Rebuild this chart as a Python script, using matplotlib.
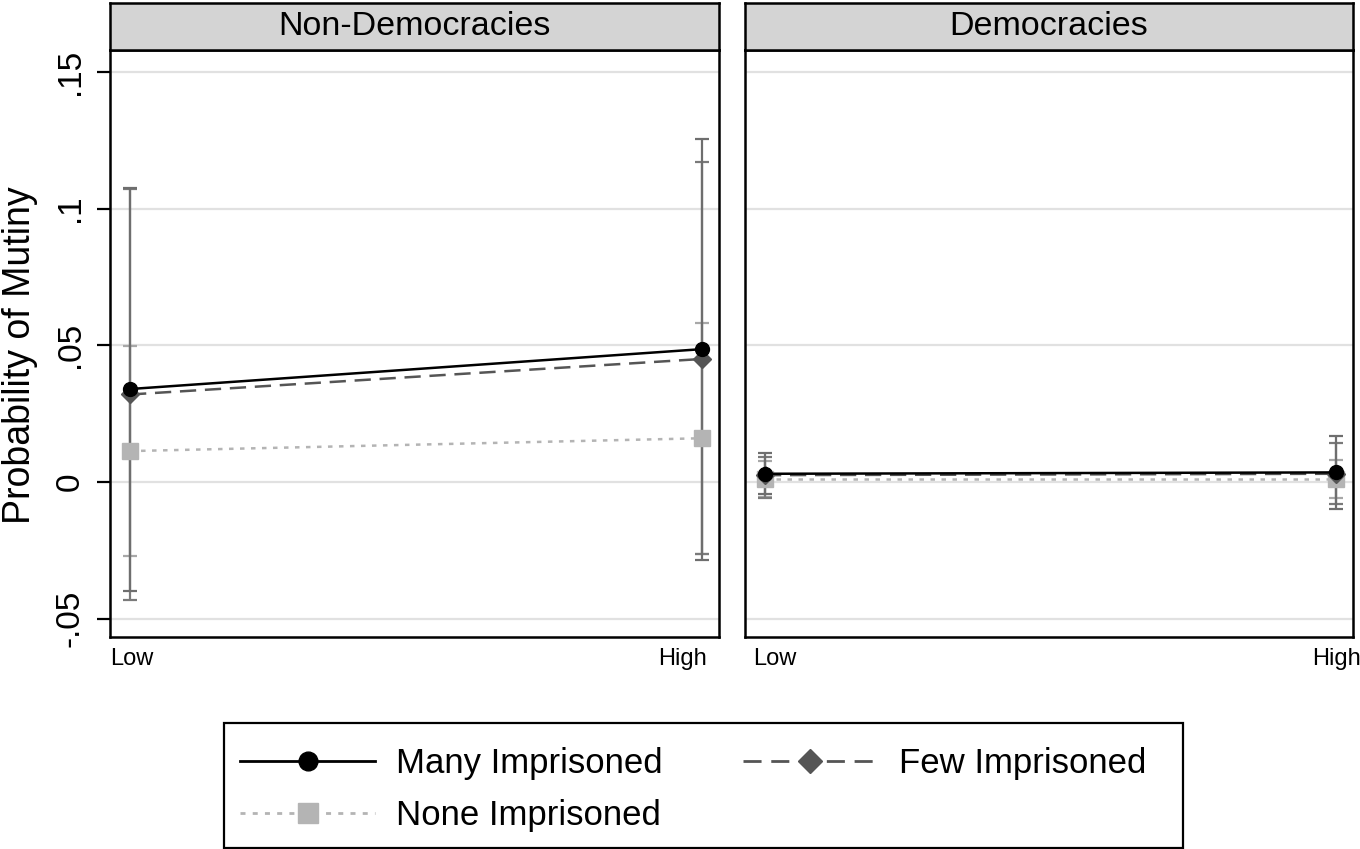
import matplotlib
matplotlib.use("Agg")
import matplotlib.pyplot as plt
from matplotlib.lines import Line2D
from matplotlib.patches import Rectangle
import numpy as np

plt.rcParams['font.family'] = ['Liberation Sans', 'DejaVu Sans']

panels = ["Non-Democracies", "Democracies"]
x_labels = ["Low", "High"]
series = ["Many Imprisoned", "Few Imprisoned", "None Imprisoned"]

# estimates [panel][series][low, high]
est = {
    "Non-Democracies": {
        "Many Imprisoned": [0.0340, 0.0486],
        "Few Imprisoned": [0.0320, 0.0450],
        "None Imprisoned": [0.0113, 0.0160],
    },
    "Democracies": {
        "Many Imprisoned": [0.0030, 0.0035],
        "Few Imprisoned": [0.0025, 0.0030],
        "None Imprisoned": [0.0010, 0.0010],
    },
}
ci_low = {
    "Non-Democracies": {
        "Many Imprisoned": [-0.0400, -0.0285],
        "Few Imprisoned": [-0.0430, -0.0265],
        "None Imprisoned": [-0.0270, -0.0265],
    },
    "Democracies": {
        "Many Imprisoned": [-0.0045, -0.0099],
        "Few Imprisoned": [-0.0060, -0.0082],
        "None Imprisoned": [-0.0055, -0.0060],
    },
}
ci_high = {
    "Non-Democracies": {
        "Many Imprisoned": [0.1075, 0.1255],
        "Few Imprisoned": [0.1072, 0.1170],
        "None Imprisoned": [0.0497, 0.0580],
    },
    "Democracies": {
        "Many Imprisoned": [0.0106, 0.0168],
        "Few Imprisoned": [0.0090, 0.0143],
        "None Imprisoned": [0.0075, 0.0080],
    },
}
y_ticks = [-0.05, 0, 0.05, 0.1, 0.15]
y_tick_labels = ["-.05", "0", ".05", ".1", ".15"]

styles = {
    "Many Imprisoned": dict(color="black", ls="-", marker="o", ms=10, lms=13.5, mc="black", ci="#6e6e6e", lw=1.8),
    "Few Imprisoned": dict(color="#555555", ls=(0, (6.5, 3.5)), marker="D", ms=9.5, lms=12.5, mc="#555555", ci="#7a7a7a", lw=1.8),
    "None Imprisoned": dict(color="#b4b4b4", ls=(0, (1.8, 2.6)), marker="s", ms=11, lms=14, mc="#b4b4b4", ci="#a8a8a8", lw=1.8),
}

W, H = 1360, 849
fig = plt.figure(figsize=(W / 100, H / 100), dpi=100)

def fx(px):
    return px / W

def fy(py):
    return 1 - py / H

panel_px = [(110, 719), (745, 1353)]
label_px = [(132, 683), (775, 1336)]
top_px, bottom_px, strip_top = 50, 637, 3
xpos = np.arange(len(x_labels))

for i, (name, (x0, x1)) in enumerate(zip(panels, panel_px)):
    ax = fig.add_axes([fx(x0), fy(bottom_px), fx(x1 - x0), (bottom_px - top_px) / H])
    ax.set_ylim(-0.0567, 0.158)
    ax.set_xlim(-0.035, 1.029)
    for yt in y_ticks:
        ax.axhline(yt, color="#e1e1e1", lw=1.6, zorder=0)
    # CI bars
    for s in series[::-1]:
        st = styles[s]
        e = np.array(est[name][s])
        lo = np.array(ci_low[name][s])
        hi = np.array(ci_high[name][s])
        ax.errorbar(xpos, e, yerr=[e - lo, hi - e], fmt="none", ecolor=st["ci"],
                    elinewidth=1.6, capsize=5, capthick=1.6, zorder=2)
    for s in series[::-1]:
        st = styles[s]
        ax.plot(xpos, est[name][s], color=st["color"], ls=st["ls"], lw=st["lw"],
                marker=st["marker"], ms=st["ms"], mfc=st["mc"], mec=st["mc"], zorder=3)
    for sp in ax.spines.values():
        sp.set_linewidth(1.8)
        sp.set_color("black")
    ax.set_xticks([])
    for lab, px in zip(x_labels, label_px[i]):
        ax.text((px - x0) / (x1 - x0), -(659 - bottom_px) / (bottom_px - top_px), lab,
                transform=ax.transAxes, ha="center", va="center", fontsize=17)
    ax.set_yticks(y_ticks)
    if i == 0:
        ax.set_yticklabels(y_tick_labels, fontsize=24, rotation=90, va="center")
        ax.tick_params(axis="y", length=9.5, width=1.6, pad=8)
    else:
        ax.set_yticklabels([])
        ax.tick_params(axis="y", length=0)
    # strip
    sax = fig.add_axes([fx(x0), fy(top_px), fx(x1 - x0), (top_px - strip_top) / H])
    sax.set_facecolor("#d4d4d4")
    sax.set_xticks([])
    sax.set_yticks([])
    for sp in sax.spines.values():
        sp.set_linewidth(1.8)
        sp.set_color("black")
    sax.text(0.5, 0.5, name, ha="center", va="center", fontsize=24.5, transform=sax.transAxes)

fig.text(fx(20), fy(355), "Probability of Mutiny", rotation=90, ha="center", va="center",
         fontsize=27)

handles = []
for s in series:
    st = styles[s]
    handles.append(Line2D([], [], color=st["color"], ls=st["ls"], lw=2.0, marker=st["marker"],
                          ms=st["lms"], mfc=st["mc"], mec=st["mc"], label=s))
order = [0, 2, 1]
leg = fig.legend([handles[k] for k in order], [series[k] for k in order], ncol=2,
                 loc="upper left", bbox_to_anchor=(fx(224), fy(731)), borderaxespad=0,
                 fontsize=25, handlelength=3.9, frameon=False,
                 borderpad=0.46, labelspacing=0.54, handletextpad=0.6,
                 columnspacing=2.3)
fig.patches.append(Rectangle((fx(224), fy(848)), fx(1183 - 224), (848 - 723) / H,
                             transform=fig.transFigure, fill=False, edgecolor="black",
                             lw=1.6, zorder=5))

fig.savefig("out.png", dpi=100)
